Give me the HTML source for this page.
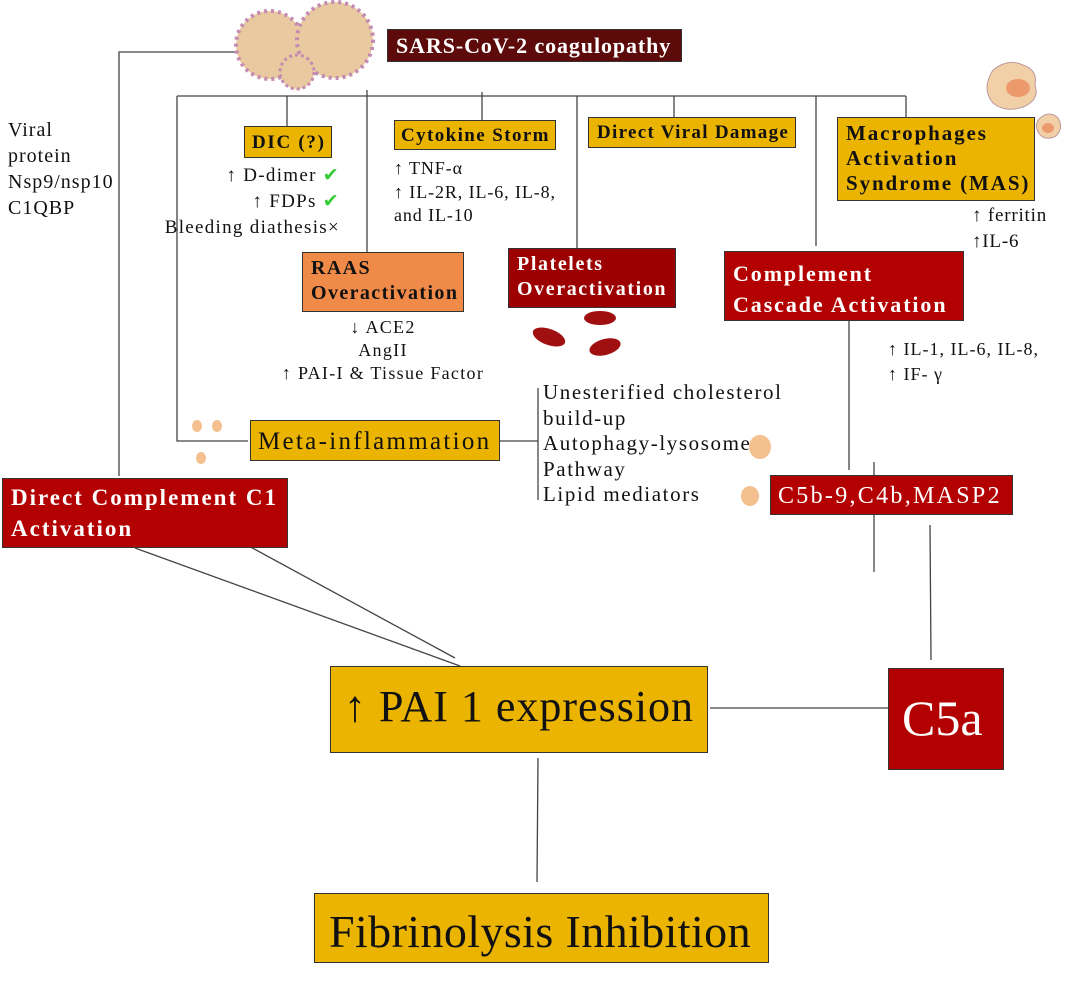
<!DOCTYPE html>
<html><head><meta charset="utf-8"><style>
body{margin:0;width:1074px;height:983px;background:#fff;position:relative;overflow:hidden;font-family:"Liberation Serif",serif;color:#111}
.b{position:absolute;box-sizing:border-box;border:1.5px solid #333;font-weight:bold;line-height:1.25;white-space:nowrap}
.t{position:absolute;font-size:17px;line-height:24px;white-space:nowrap}
.g{background:#ebb400}
.r{background:#b30000;color:#fff}
svg{position:absolute;left:0;top:0}
</style></head><body>
<svg width="1074" height="983">
<g stroke="#444" stroke-width="1.3" fill="none">
<polyline points="237,52 119,52 119,476"/>
<line x1="177" y1="96" x2="906" y2="96"/>
<polyline points="177,96 177,441 248,441"/>
<line x1="287" y1="96" x2="287" y2="126"/>
<line x1="367" y1="90" x2="367" y2="252"/>
<line x1="482" y1="92" x2="482" y2="120"/>
<line x1="577" y1="96" x2="577" y2="248"/>
<line x1="674" y1="96" x2="674" y2="118"/>
<line x1="816" y1="96" x2="816" y2="246"/>
<line x1="906" y1="96" x2="906" y2="118"/>
<line x1="849" y1="321" x2="849" y2="470"/>
<line x1="500" y1="441" x2="538" y2="441"/>
<line x1="538" y1="388" x2="538" y2="500"/>
<line x1="874" y1="462" x2="874" y2="572"/>
<line x1="930" y1="525" x2="931" y2="660"/>
<line x1="710" y1="708" x2="888" y2="708"/>
<line x1="135" y1="548" x2="460" y2="666"/>
<line x1="210" y1="525" x2="455" y2="658"/>
<line x1="538" y1="758" x2="537" y2="882"/>
</g>
<g>
<circle cx="270" cy="45" r="34" fill="#e8c9a0" stroke="#c58ab0" stroke-width="4" stroke-dasharray="3 4"/>
<circle cx="335" cy="40" r="38" fill="#e8c9a0" stroke="#c58ab0" stroke-width="4" stroke-dasharray="3 4"/>
<circle cx="297" cy="72" r="17" fill="#e8c9a0" stroke="#c58ab0" stroke-width="3" stroke-dasharray="3 3"/>
<path d="M993,70 q15,-12 30,-5 q15,5 12,20 q5,15 -12,22 q-18,6 -30,-4 q-12,-14 0,-33z" fill="#f1d0a8" stroke="#b99" />
<ellipse cx="1018" cy="88" rx="12" ry="9" fill="#ec9a6c"/>
<path d="M1040,118 q10,-8 18,0 q6,10 -2,18 q-12,6 -18,-4 q-4,-8 2,-14z" fill="#f1d0a8" stroke="#b99"/>
<ellipse cx="1048" cy="128" rx="6" ry="5" fill="#ec9a6c"/>
<ellipse cx="600" cy="318" rx="16" ry="7" fill="#a01010"/>
<ellipse cx="549" cy="337" rx="17" ry="8" fill="#a01010" transform="rotate(20 549 337)"/>
<ellipse cx="605" cy="347" rx="16" ry="8" fill="#a01010" transform="rotate(-15 605 347)"/>
<ellipse cx="197" cy="426" rx="5" ry="6" fill="#f3c08e"/>
<ellipse cx="217" cy="426" rx="5" ry="6" fill="#f3c08e"/>
<ellipse cx="201" cy="458" rx="5" ry="6" fill="#f3c08e"/>
<ellipse cx="760" cy="447" rx="11" ry="12" fill="#f3c08e"/>
<ellipse cx="750" cy="496" rx="9" ry="10" fill="#f3c08e"/>
</g>
</svg>
<div class="b" style="left:387px;top:29px;width:295px;height:33px;background:#5c0a0a;color:#fff;font-size:22px;letter-spacing:0.9px;padding:2px 0 0 8px">SARS-CoV-2 coagulopathy</div>
<div class="t" style="left:8px;top:117px;line-height:26px;font-size:20px;letter-spacing:1px">Viral<br>protein<br>Nsp9/nsp10<br>C1QBP</div>
<div class="b g" style="left:244px;top:126px;width:88px;height:32px;font-size:19px;letter-spacing:1.7px;padding:4px 0 0 7px">DIC (?)</div>
<div class="t" style="left:120px;top:163px;width:220px;text-align:right;font-size:19px;letter-spacing:1.3px;line-height:26px">↑ D-dimer <span style="color:#3c3">✔</span><br>↑ FDPs <span style="color:#3c3">✔</span><br>Bleeding diathesis×</div>
<div class="b g" style="left:394px;top:120px;width:162px;height:30px;font-size:19px;letter-spacing:1.4px;padding:3px 0 0 6px">Cytokine Storm</div>
<div class="t" style="left:394px;top:157px;line-height:23.5px;font-size:18px;letter-spacing:0.9px">↑ TNF-α<br>↑ IL-2R, IL-6, IL-8,<br>and IL-10</div>
<div class="b g" style="left:588px;top:117px;width:208px;height:31px;font-size:19px;letter-spacing:1.3px;padding:3px 0 0 8px">Direct Viral Damage</div>
<div class="b g" style="left:837px;top:117px;width:198px;height:84px;font-size:21px;letter-spacing:1.9px;line-height:25px;padding:3px 0 0 8px">Macrophages<br>Activation<br>Syndrome (MAS)</div>
<div class="t" style="left:972px;top:203px;line-height:26px;font-size:19px;letter-spacing:0.8px">↑ ferritin<br>↑IL-6</div>
<div class="b" style="left:302px;top:252px;width:162px;height:60px;background:#ef8a48;font-size:20px;letter-spacing:1.4px;padding:3px 0 0 8px">RAAS<br>Overactivation</div>
<div class="t" style="left:262px;top:316px;width:242px;text-align:center;line-height:23px;font-size:18px;letter-spacing:1.3px">↓ ACE2<br>AngII<br>↑ PAI-I &amp; Tissue Factor</div>
<div class="b" style="left:508px;top:248px;width:168px;height:60px;background:#9c0000;color:#fff;font-size:20px;letter-spacing:1.6px;padding:3px 0 0 8px">Platelets<br>Overactivation</div>
<div class="b r" style="left:724px;top:251px;width:240px;height:70px;font-size:22px;letter-spacing:1.9px;padding:6px 0 0 8px;line-height:31px">Complement<br>Cascade Activation</div>
<div class="t" style="left:888px;top:337px;line-height:25px;font-size:18px;letter-spacing:1px">↑ IL-1, IL-6, IL-8,<br>↑ IF- γ</div>
<div class="b g" style="left:250px;top:420px;width:250px;height:41px;font-size:25px;letter-spacing:2.3px;font-weight:normal;padding:5px 0 0 7px">Meta-inflammation</div>
<div class="t" style="left:543px;top:380px;line-height:25.5px;font-size:21px;letter-spacing:1.6px">Unesterified cholesterol<br>build-up<br>Autophagy-lysosome<br>Pathway<br>Lipid mediators</div>
<div class="b r" style="left:770px;top:475px;width:243px;height:40px;font-size:24px;letter-spacing:2.3px;font-weight:normal;padding:5px 0 0 7px">C5b-9,C4b,MASP2</div>
<div class="b r" style="left:2px;top:478px;width:286px;height:70px;font-size:23px;letter-spacing:2px;padding:3px 0 0 8px;line-height:31px">Direct Complement C1<br>Activation</div>
<div class="b g" style="left:330px;top:666px;width:378px;height:87px;font-size:44px;letter-spacing:1px;font-weight:normal;padding:12px 0 0 13px">↑ PAI 1 expression</div>
<div class="b r" style="left:888px;top:668px;width:116px;height:102px;font-size:50px;font-weight:normal;padding:18px 0 0 13px">C5a</div>
<div class="b g" style="left:314px;top:893px;width:455px;height:70px;font-size:46px;letter-spacing:0.4px;font-weight:normal;padding:9px 0 0 14px">Fibrinolysis Inhibition</div>
</body></html>
